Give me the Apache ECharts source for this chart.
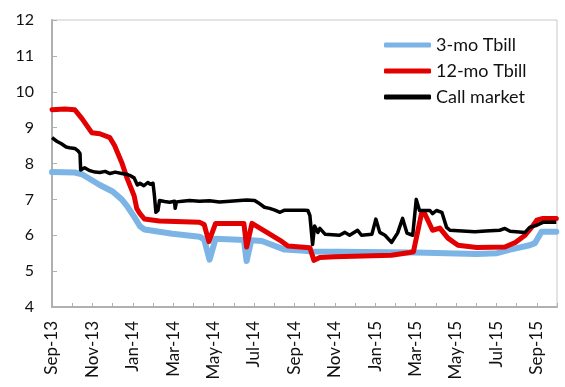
<!DOCTYPE html>
<html>
<head>
<meta charset="utf-8">
<script src="https://cdn.jsdelivr.net/npm/echarts@6/dist/echarts.min.js"></script>
<style>
  html, body { margin: 0; padding: 0; background: #fff; }
  #chart { width: 565px; height: 387px; }
</style>
</head>
<body>
<div id="chart"></div>
<script>
// Month tick labels (every second month, starting Sep 2013)
const tickLabels = ['Sep-13','Nov-13','Jan-14','Mar-14','May-14','Jul-14','Sep-14',
                    'Nov-14','Jan-15','Mar-15','May-15','Jul-15','Sep-15'];

// 3-month treasury bill yield (%)
const tbill3Dates = ['2013-09-01','2013-10-05','2013-10-16','2013-11-12','2013-12-01','2013-12-15',
  '2013-12-23','2014-01-03','2014-01-12','2014-01-19','2014-02-28','2014-04-10','2014-04-17',
  '2014-04-25','2014-05-04','2014-06-16','2014-06-20','2014-06-27','2014-07-13','2014-08-17',
  '2014-09-16','2014-09-28','2015-03-01','2015-06-02','2015-07-02','2015-07-22','2015-08-21',
  '2015-08-29','2015-09-08','2015-09-30'];
const tbill3Rates = [7.76,7.75,7.70,7.40,7.22,7.00,
  6.82,6.52,6.25,6.16,6.04,5.96,5.88,
  5.32,5.90,5.87,5.28,5.86,5.84,5.60,
  5.57,5.55,5.52,5.48,5.50,5.60,5.72,
  5.78,6.10,6.10];

// 12-month treasury bill yield (%)
const tbill12Dates = ['2013-09-01','2013-09-20','2013-10-05','2013-10-16','2013-10-31','2013-11-12',
  '2013-11-27','2013-12-04','2013-12-15','2013-12-23','2014-01-03','2014-01-07','2014-01-12',
  '2014-01-19','2014-02-10','2014-04-10','2014-04-17','2014-04-24','2014-05-04','2014-06-16',
  '2014-06-20','2014-06-28','2014-07-17','2014-08-10','2014-08-22','2014-09-24','2014-09-30',
  '2014-10-09','2014-11-01','2015-01-26','2015-02-21','2015-02-26','2015-03-10','2015-03-14',
  '2015-03-27','2015-04-07','2015-04-19','2015-05-04','2015-06-02','2015-07-14','2015-07-30',
  '2015-08-14','2015-08-24','2015-09-01','2015-09-10','2015-09-30'];
const tbill12Rates = [9.50,9.52,9.50,9.25,8.86,8.83,
  8.72,8.50,8.03,7.60,7.10,6.75,6.60,
  6.45,6.40,6.36,6.30,5.82,6.33,6.33,
  5.67,6.33,6.12,5.86,5.70,5.65,5.30,
  5.38,5.40,5.44,5.52,5.54,6.60,6.64,
  6.14,6.20,5.92,5.72,5.66,5.67,5.80,
  6.00,6.22,6.42,6.47,6.47];

// Call money market rate (%)
const callDates = ['2013-09-01','2013-09-08','2013-09-15','2013-09-22','2013-09-27','2013-10-05',
  '2013-10-10','2013-10-13','2013-10-14','2013-10-20','2013-10-28','2013-11-05','2013-11-12',
  '2013-11-20','2013-11-27','2013-12-05','2013-12-15','2013-12-22','2013-12-27','2014-01-03',
  '2014-01-08','2014-01-12','2014-01-18','2014-01-24','2014-01-28','2014-02-01','2014-02-03',
  '2014-02-05','2014-02-08','2014-02-10','2014-02-17','2014-02-24','2014-03-03','2014-03-04',
  '2014-03-06','2014-03-15','2014-03-26','2014-04-10','2014-04-25','2014-05-10','2014-05-26',
  '2014-06-10','2014-06-20','2014-07-02','2014-07-08','2014-07-17','2014-07-25','2014-08-02',
  '2014-08-10','2014-08-17','2014-09-16','2014-09-21','2014-09-24','2014-09-28','2014-10-01',
  '2014-10-06','2014-10-09','2014-10-17','2014-11-08','2014-11-16','2014-11-23','2014-12-05',
  '2014-12-11','2014-12-27','2015-01-02','2015-01-08','2015-01-16','2015-01-26','2015-02-04',
  '2015-02-11','2015-02-17','2015-02-25','2015-03-02','2015-03-07','2015-03-23','2015-03-27',
  '2015-04-02','2015-04-10','2015-04-17','2015-04-22','2015-05-30','2015-06-15','2015-07-06',
  '2015-07-14','2015-07-22','2015-08-14','2015-08-21','2015-09-01','2015-09-10','2015-09-30'];
const callRates = [8.72,8.62,8.55,8.46,8.44,8.42,
  8.35,8.28,7.82,7.88,7.80,7.76,7.75,
  7.78,7.72,7.76,7.72,7.70,7.67,7.60,
  7.40,7.45,7.38,7.47,7.42,7.45,7.10,
  6.64,6.70,6.97,6.94,6.92,6.95,6.75,
  6.93,6.95,6.97,6.95,6.96,6.93,6.95,
  6.97,6.98,6.97,6.90,6.78,6.75,6.70,
  6.64,6.70,6.70,6.69,6.55,5.74,6.26,
  6.08,6.19,6.03,6.00,6.08,6.00,6.14,
  6.00,6.03,6.45,6.08,6.00,5.80,6.06,
  6.47,6.06,6.00,7.00,6.69,6.69,6.60,
  6.69,6.64,6.22,6.14,6.10,6.12,6.14,
  6.19,6.11,6.08,6.22,6.28,6.36,6.36];

// Convert a date string into months elapsed since 1 Sep 2013 (fractional)
function monthPos(s) {
  const [y, m, d] = s.split('-').map(Number);
  const days = new Date(y, m, 0).getDate();
  return (y - 2013) * 12 + (m - 9) + (d - 1) / days;
}
function pairs(dates, vals) {
  return dates.map((d, i) => [monthPos(d), vals[i]]);
}

const font = 'Lato';
const chart = echarts.init(document.getElementById('chart'), null, { renderer: 'canvas' });

chart.setOption({
  animation: false,
  backgroundColor: '#ffffff',
  textStyle: { fontFamily: font },
  grid: {
    left: 52, top: 20, right: 8, bottom: 80,
    show: true, borderColor: '#c8c8c8', borderWidth: 1
  },
  legend: {
    orient: 'vertical',
    left: 379, top: 31,
    itemWidth: 47, itemHeight: 5, itemGap: 8,
    icon: 'roundRect',
    textStyle: { fontFamily: font, fontSize: 18, color: '#111', lineHeight: 18, padding: [0, 0, 0, 0] },
    data: ['3-mo Tbill', '12-mo Tbill', 'Call market']
  },
  xAxis: {
    type: 'value',
    min: 0, max: 25, interval: 1,
    splitLine: { show: false },
    axisLine: { lineStyle: { color: '#b0b0b0', width: 2 } },
    axisTick: { inside: true, length: 4, lineStyle: { color: '#b0b0b0', width: 1 } },
    axisLabel: {
      rotate: 90, margin: 14,
      fontFamily: font, fontSize: 17, color: '#111',
      formatter: v => (v % 2 === 0 && tickLabels[v / 2]) ? tickLabels[v / 2] : ''
    }
  },
  yAxis: {
    type: 'value',
    min: 4, max: 12, interval: 1,
    splitLine: { show: false },
    axisLine: { show: true, lineStyle: { color: '#b0b0b0', width: 2 } },
    axisTick: { show: true, inside: true, length: 5, lineStyle: { color: '#b0b0b0', width: 1 } },
    axisLabel: { margin: 18, fontFamily: font, fontSize: 16, color: '#111' }
  },
  series: [
    {
      name: '3-mo Tbill', type: 'line', showSymbol: false,
      data: pairs(tbill3Dates, tbill3Rates),
      color: '#7db4e6',
      lineStyle: { width: 6, color: '#7db4e6', join: 'round', cap: 'round' }
    },
    {
      name: '12-mo Tbill', type: 'line', showSymbol: false,
      data: pairs(tbill12Dates, tbill12Rates),
      color: '#e30000',
      lineStyle: { width: 5, color: '#e30000', join: 'round', cap: 'round' }
    },
    {
      name: 'Call market', type: 'line', showSymbol: false,
      data: pairs(callDates, callRates),
      color: '#000000',
      lineStyle: { width: 3.5, color: '#000000', join: 'round' }
    }
  ]
});
</script>
</body>
</html>
